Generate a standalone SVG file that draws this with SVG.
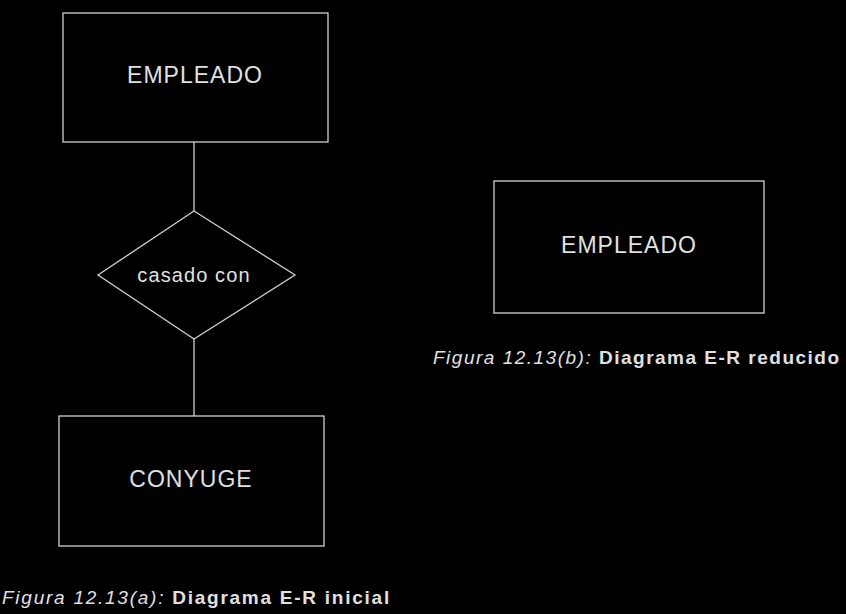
<svg xmlns="http://www.w3.org/2000/svg" width="846" height="614" viewBox="0 0 846 614">
<style>
.shape{fill:none;stroke:#d0d0d0;stroke-width:1.3}
.lbl{font-family:"Liberation Sans",Arial,sans-serif;fill:#e0e0e0;text-anchor:middle}
.ent{font-size:23px;letter-spacing:1px}
.cap{font-family:"Liberation Sans",Arial,sans-serif;fill:#e0e0e0;font-size:19px;letter-spacing:1.5px}
</style>
<rect width="846" height="614" fill="#000"/>
<g id="connectors">
<line class="shape" x1="194" y1="142" x2="194" y2="211"/>
<line class="shape" x1="194" y1="339" x2="194" y2="416"/>
</g>
<g id="empleado-a">
<rect class="shape" x="63" y="13" width="265" height="129"/>
<text class="lbl ent" x="195" y="83">EMPLEADO</text>
</g>
<g id="casado-con">
<polygon class="shape" points="194,211 295,275 194,339 98,275"/>
<text class="lbl" x="194" y="282" font-size="20" letter-spacing="1.1">casado con</text>
</g>
<g id="conyuge">
<rect class="shape" x="59" y="416" width="265" height="130"/>
<text class="lbl ent" x="191" y="487">CONYUGE</text>
</g>
<g id="empleado-b">
<rect class="shape" x="494" y="181" width="270" height="132"/>
<text class="lbl ent" x="629" y="253">EMPLEADO</text>
</g>
<text class="cap" x="2" y="604" style="letter-spacing:1.75px"><tspan font-style="italic">Figura 12.13(a): </tspan><tspan font-weight="bold">Diagrama E-R inicial</tspan></text>
<text class="cap" x="433" y="364"><tspan font-style="italic">Figura 12.13(b): </tspan><tspan font-weight="bold">Diagrama E-R reducido</tspan></text>
</svg>
